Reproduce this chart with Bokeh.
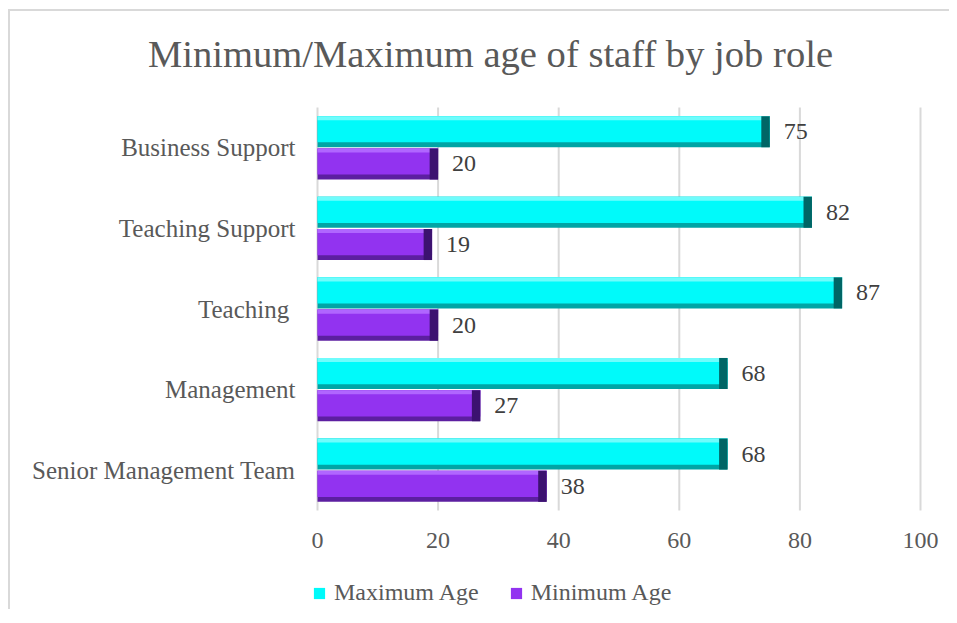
from bokeh.plotting import figure
from bokeh.models import ColumnDataSource, Range1d, Legend, LegendItem, Label
from bokeh.transform import dodge
from bokeh.core.properties import value
from bokeh.embed import file_html
from bokeh.resources import INLINE

# ---- data ----
roles = ["Senior Management Team", "Management", "Teaching ", "Teaching Support", "Business Support"]
max_age = [68, 68, 87, 82, 75]
min_age = [38, 27, 20, 19, 20]
x_ticks = [0, 20, 40, 60, 80, 100]
series_names = ["Maximum Age", "Minimum Age"]
title_text = "Minimum/Maximum age of staff by job role"

FONT = "Liberation Serif"
END = 1.4      # bevel end width (data units)
H = 0.385      # bar thickness (category units)
OFF = 0.2      # bar offset from category centre
UNIT = 80.6    # px per category
PX = 6.03      # px per x unit

W, FRAME_H = 941, 600
LEFT_PX = 307                 # x = 0 position inside the canvas
TOP_PX, BOTTOM_PX = 96, 101   # space above / below the category area

n = len(roles)
pos = [i + 0.5 for i in range(n)]

src = ColumnDataSource(dict(
    pos=pos,
    role=roles,
    zero=[0] * n,
    max_y=[y + OFF for y in pos],
    min_y=[y - OFF for y in pos],
    max_age=max_age,
    min_age=min_age,
    max_lbl=[str(v) for v in max_age],
    min_lbl=[str(v) for v in min_age],
    max_end=[v - END for v in max_age],
    min_end=[v - END for v in min_age],
))

p = figure(width=W, height=FRAME_H, output_backend="svg", toolbar_location=None,
           x_range=Range1d(-LEFT_PX / PX, (W - LEFT_PX) / PX),
           y_range=Range1d(-BOTTOM_PX / UNIT, n + TOP_PX / UNIT),
           x_axis_location=None, y_axis_location=None, title=None,
           min_border_left=0, min_border_right=0, min_border_top=0, min_border_bottom=0,
           background_fill_color="white", border_fill_color="white")
p.margin = (9, 0, 0, 8)
p.styles = {"border-left": "2px solid #d9d9d9", "border-top": "2px solid #d9d9d9"}
p.outline_line_color = None
p.xgrid.visible = False
p.ygrid.visible = False

# vertical gridlines over the category area
p.segment(x0=x_ticks, y0=[0] * len(x_ticks), x1=x_ticks, y1=[n] * len(x_ticks),
          line_color="#d9d9d9", line_width=2)

# x tick labels
p.text(x=x_ticks, y=[0] * len(x_ticks), text=[str(t) for t in x_ticks],
       y_offset=30, text_align="center", text_baseline="middle",
       text_font=value(FONT), text_font_size="24px", text_color="#595959")

# category labels
p.text(x="zero", y="pos", text="role", source=src,
       x_offset=-22, text_align="right", text_baseline="middle",
       text_font=value(FONT), text_font_size="25px", text_color="#595959")

# bars with a simple bevel (dark lower edge, light upper edge, dark end)
def bars(ycol, col, end_col, main, dark, end_dark, light):
    p.hbar(y=ycol, left=0, right=col, height=H, source=src, fill_color=dark, line_color=None)
    r = p.hbar(y=dodge(ycol, 0.03), left=0, right=col, height=H - 0.06, source=src,
               fill_color=main, line_color=None)
    p.hbar(y=dodge(ycol, H / 2 - 0.025), left=0, right=col, height=0.05, source=src,
           fill_color=light, line_color=None)
    p.hbar(y=ycol, left=end_col, right=col, height=H, source=src, fill_color=end_dark,
           line_color=None)
    return r

r_max = bars("max_y", "max_age", "max_end", "#00fafa", "#00a5a5", "#006666", "#6ffcfc")
r_min = bars("min_y", "min_age", "min_end", "#9233f0", "#5c1fa0", "#3c1270", "#b066ff")

# value labels
for ycol, col, lbl in (("max_y", "max_age", "max_lbl"), ("min_y", "min_age", "min_lbl")):
    p.text(x=col, y=ycol, text=lbl, source=src,
           x_offset=14, text_baseline="middle", text_align="left",
           text_font=value(FONT), text_font_size="24px", text_color="#404040")

# title
p.add_layout(Label(x=480, y=FRAME_H - 42, x_units="screen", y_units="screen",
                   text=title_text, text_align="center", text_baseline="middle",
                   text_font=FONT, text_font_size="38.6px", text_color="#595959"))

legend = Legend(items=[LegendItem(label=series_names[0], renderers=[r_max]),
                       LegendItem(label=series_names[1], renderers=[r_min])],
                location=(LEFT_PX - 5, 5), orientation="horizontal",
                border_line_color=None, background_fill_alpha=0,
                label_text_font=FONT, label_text_font_size="24px", label_text_color="#595959",
                glyph_width=14, glyph_height=14, spacing=30, label_standoff=8,
                padding=0, margin=0)
p.add_layout(legend, "center")

open("out.html", "w").write(file_html(p, INLINE))
